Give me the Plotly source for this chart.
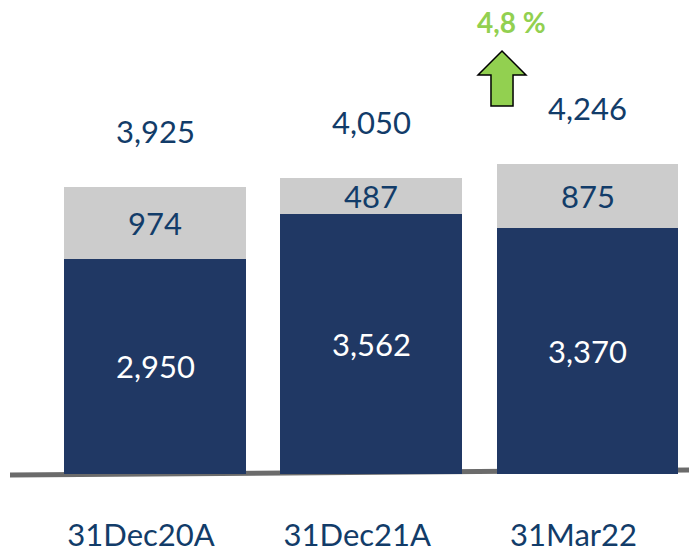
import plotly.graph_objects as go

categories = ["31Dec20A", "31Dec21A", "31Mar22"]
base_values = [2950, 3562, 3370]
top_values = [974, 487, 875]
total_labels = ["3,925", "4,050", "4,246"]
base_labels = ["2,950", "3,562", "3,370"]
top_labels = ["974", "487", "875"]
growth_label = "4,8 %"

NAVY = "#203864"
GRAY = "#cccccc"
TEXT = "#123c69"
GREEN = "#92d050"
FONT = "Lato"

totals = [b + t for b, t in zip(base_values, top_values)]
xpos = list(range(len(categories)))

fig = go.Figure()
fig.add_trace(go.Bar(x=xpos, y=base_values, marker=dict(color=NAVY, line=dict(width=0)),
                     hoverinfo="skip"))
fig.add_trace(go.Bar(x=xpos, y=top_values, marker=dict(color=GRAY, line=dict(width=0)),
                     hoverinfo="skip"))

ann = []
for i in xpos:
    ann.append(dict(x=i, y=base_values[i] / 2, text=base_labels[i], showarrow=False,
                    font=dict(family=FONT, size=31, color="white")))
    ann.append(dict(x=i, y=base_values[i] + top_values[i] / 2, text=top_labels[i], showarrow=False,
                    font=dict(family=FONT, size=31, color=TEXT)))
    ann.append(dict(x=i, y=totals[i], text=total_labels[i], showarrow=False, yshift=56,
                    font=dict(family=FONT, size=31, color=TEXT)))
ann.append(dict(x=511 / 689, y=(474 - 22) / 474, xref="paper", yref="paper", xanchor="center", yanchor="middle",
                text="<b>" + growth_label + "</b>",
                showarrow=False, font=dict(family=FONT, size=28, color=GREEN)))

def px(x, y):
    return f"{x/689:.4f},{(474-y)/474:.4f}"

arrow_path = ("M " + px(502, 51) + " L " + px(526, 75) + " L " + px(513, 75) + " L " + px(513, 106) +
              " L " + px(491, 106) + " L " + px(491, 75) + " L " + px(478, 75) + " Z")

shapes = [
    dict(type="line", xref="paper", yref="paper", x0=10 / 689, x1=1.0,
         y0=(474 - 475) / 474, y1=(474 - 470) / 474, line=dict(color="#6b6b6b", width=5), layer="below"),
    dict(type="path", xref="paper", yref="paper", path=arrow_path,
         fillcolor=GREEN, line=dict(color="black", width=1.5)),
]

fig.update_layout(
    barmode="stack",
    bargap=0.16,
    width=689, height=553,
    margin=dict(l=0, r=0, t=0, b=79),
    plot_bgcolor="white", paper_bgcolor="white",
    showlegend=False,
    annotations=ann,
    shapes=shapes,
    xaxis=dict(range=[-0.717, 2.469], tickmode="array", tickvals=xpos, ticktext=categories,
               showgrid=False, zeroline=False, showline=False, ticks="",
               tickfont=dict(family=FONT, size=31, color=TEXT), ticklabelstandoff=40,
               ticklabelshift=-14),
    yaxis=dict(range=[0, 6490], visible=False, showgrid=False, zeroline=False),
)

fig.write_html("out.html", config={"displayModeBar": False},
               post_script="document.body.style.margin='0';document.body.style.overflow='hidden';")
